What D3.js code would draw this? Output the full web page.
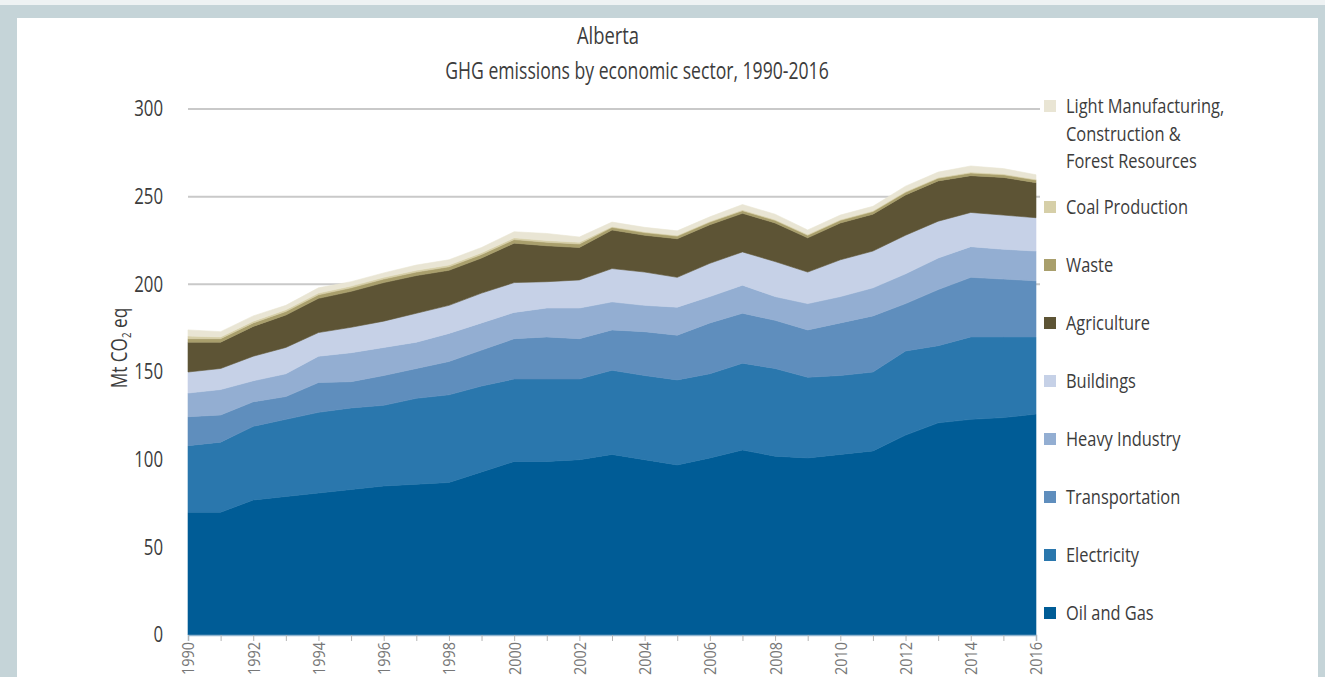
<!DOCTYPE html>
<html>
<head>
<meta charset="utf-8">
<script src="https://cdn.jsdelivr.net/npm/d3@7"></script>
<style>
  html, body { margin: 0; padding: 0; background: #c5d4d8; }
  svg { display: block; }
  text { font-family: 'Open Sans', 'DejaVu Sans', sans-serif; fill: #3c3c3c; }
</style>
</head>
<body>
<script>
// years on the x axis
const years = d3.range(1990, 2017)

// sector values, Mt CO2 eq
const oilGas = [70, 70, 77, 79, 81, 83, 85, 86, 87, 93, 99, 99, 100, 103, 100, 97, 101, 105.5, 102, 101, 103, 105, 114, 121, 123, 124, 126]
const electricity = [38, 40, 42, 44, 46, 46.5, 46, 49, 50, 49, 47, 47, 46, 48, 48, 48.5, 48, 49.5, 50, 46, 45, 45, 48, 44, 47, 46, 44]
const transportation = [16.5, 15.5, 14, 13, 17, 15, 17, 17, 19, 20.5, 23, 24, 23, 23, 25, 25.5, 29, 28.5, 27.5, 27, 30, 32, 27, 32, 34, 33, 32]
const heavyIndustry = [13.5, 14.5, 12, 13, 15, 16.5, 16, 15, 16, 15.5, 15, 16.5, 17.5, 16, 15, 16, 15, 16, 13.5, 15, 15, 16, 17, 18, 17.5, 17, 17]
const buildings = [12, 12, 14, 15, 13.5, 14.5, 15, 16.5, 16, 17, 17, 15, 16, 19, 19, 17, 19, 19, 20, 18, 21, 21, 22, 21, 19.5, 19.5, 19]
const agriculture = [17, 15, 17, 18.5, 19.5, 20.5, 22, 21.5, 20, 20, 22.5, 20.5, 18.5, 22, 21, 22, 22, 22, 22, 19.5, 21, 21, 23, 23, 21, 21.5, 20]
const waste = [2, 2, 2, 2, 2, 2, 2, 2, 2, 2, 2, 2, 2, 1.5, 1.5, 1.5, 1.5, 1.5, 1.5, 1.5, 1.5, 1.5, 1.5, 1.5, 1.5, 1.5, 1.5]
const coal = [1.5, 1, 1, 1, 1, 1, 1, 1, 1, 1, 1, 1, 1, 0.5, 0.5, 0.5, 0.5, 0.5, 0.5, 0.5, 0.5, 0.5, 0.5, 0.5, 0.5, 0.5, 0.5]
const lightMfg = [3.5, 3, 3, 2.5, 3, 2.5, 2.5, 3, 3, 3, 3.5, 4, 3, 2.5, 2.5, 2.5, 2.5, 3, 3, 2.5, 2.5, 2.5, 3, 3, 3.5, 3, 2.5]

const sectorNames = ['Oil and Gas', 'Electricity', 'Transportation', 'Heavy Industry', 'Buildings',
  'Agriculture', 'Waste', 'Coal Production', 'Light Manufacturing, Construction & Forest Resources']
const sectorSeries = [oilGas, electricity, transportation, heavyIndustry, buildings, agriculture, waste, coal, lightMfg]
const sectorColors = ['#005c96', '#2a77ad', '#5f8ebd', '#93aed2', '#c6d1e7', '#5d5435', '#a99f6c', '#d6cfa8', '#e9e5d4']
const legendLines = [['Oil and Gas'], ['Electricity'], ['Transportation'], ['Heavy Industry'], ['Buildings'],
  ['Agriculture'], ['Waste'], ['Coal Production'], ['Light Manufacturing,', 'Construction &', 'Forest Resources']]
const yTicks = [0, 50, 100, 150, 200, 250, 300]
const gridTicks = [200, 250, 300]

// build table rows for the stack
const rows = years.map((y, i) => {
  const r = {year: y}
  sectorNames.forEach((n, k) => r[n] = sectorSeries[k][i])
  return r
})

const width = 1325, height = 677
const margin = {top: 109, bottom: 42, left: 188, right: 289}
const squeeze = 0.8 // the original uses a condensed face

// squash a text node horizontally so it looks condensed
function condense(sel, k) {
  sel.each(function () {
    const len = this.getComputedTextLength()
    d3.select(this).attr('textLength', len * k).attr('lengthAdjust', 'spacingAndGlyphs')
  })
}

const svg = d3.select('body').append('svg')
  .attr('width', width)
  .attr('height', height)

// light strip at very top, white panel inside the grey frame
svg.append('rect')
  .attr('x', 0).attr('y', 0)
  .attr('width', width).attr('height', 5)
  .attr('fill', '#eef2f3')
svg.append('rect')
  .attr('x', 17).attr('y', 18)
  .attr('width', 1318 - 17).attr('height', height)
  .attr('fill', '#ffffff')

const x = d3.scaleLinear().domain([1990, 2016]).range([margin.left, width - margin.right])
const y = d3.scaleLinear().domain([0, 300]).range([height - margin.bottom, margin.top])

// grid lines
svg.append('g').selectAll('line').data(gridTicks).join('line')
  .attr('x1', margin.left).attr('x2', 1040)
  .attr('y1', d => y(d)).attr('y2', d => y(d))
  .attr('stroke', '#c9c9c9').attr('stroke-width', 2)

// stacked areas
const stack = d3.stack().keys(sectorNames)
const layers = stack(rows)
const area = d3.area()
  .x(d => x(d.data.year))
  .y0(d => y(d[0]))
  .y1(d => y(d[1]))

svg.append('g').selectAll('path').data(layers).join('path')
  .attr('d', area)
  .attr('fill', (d, i) => sectorColors[i])
  .attr('stroke', (d, i) => sectorColors[i])
  .attr('stroke-width', 0.6)

// y axis labels
svg.append('g').selectAll('text').data(yTicks).join('text')
  .attr('x', 163)
  .attr('y', d => y(d))
  .attr('dy', '0.35em')
  .attr('text-anchor', 'end')
  .attr('font-size', 21)
  .text(d => d)
  .call(condense, squeeze)

// y axis title
const yTitle = svg.append('text')
  .attr('text-anchor', 'middle')
  .attr('font-size', 21)
yTitle.append('tspan').text('Mt CO')
yTitle.append('tspan').attr('font-size', 12).attr('dy', 4).text('2')
yTitle.append('tspan').attr('dy', -4).text(' eq')
yTitle.attr('transform', 'translate(127, 348) rotate(-90) scale(0.82, 1)')

// x axis
const xAxis = d3.axisBottom(x)
  .tickValues(years)
  .tickSize(6)
  .tickFormat(d => d % 2 === 0 ? d : '')
svg.append('g')
  .attr('transform', `translate(0, ${y(0)})`)
  .call(xAxis)
  .call(g => g.select('.domain').attr('stroke', '#8fb4cf').attr('stroke-width', 1.5))
  .call(g => g.selectAll('.tick line').attr('stroke', '#b5b5b5'))
  .call(g => g.selectAll('.tick text')
    .attr('font-size', 17)
    .style('fill', '#777')
    .attr('transform', 'rotate(-90)')
    .attr('text-anchor', 'end')
    .attr('x', -7)
    .attr('y', 0)
    .attr('dy', '0.35em')
    .call(condense, 0.85))

// title
svg.append('text')
  .attr('x', 608).attr('y', 44)
  .attr('text-anchor', 'middle')
  .attr('font-size', 23)
  .text('Alberta')
  .call(condense, squeeze)
svg.append('text')
  .attr('x', 637).attr('y', 79)
  .attr('text-anchor', 'middle')
  .attr('font-size', 23)
  .text('GHG emissions by economic sector, 1990-2016')
  .call(condense, 0.765)

// legend, top entry is the last sector
const legendY = [613, 555, 497, 439, 381, 323, 265, 207, 106]
const legend = svg.append('g').selectAll('g').data(sectorNames).join('g')
  .attr('transform', (d, i) => `translate(1044, ${legendY[i]})`)
legend.append('rect')
  .attr('x', 0).attr('y', -6)
  .attr('width', 12).attr('height', 12)
  .attr('fill', (d, i) => sectorColors[i])
legend.each(function (d, i) {
  d3.select(this).selectAll('text').data(legendLines[i]).join('text')
    .attr('x', 22)
    .attr('y', (t, j) => j * 27.5)
    .attr('dy', '0.35em')
    .attr('font-size', 20)
    .text(t => t)
    .call(condense, 0.82)
})
</script>
</body>
</html>
